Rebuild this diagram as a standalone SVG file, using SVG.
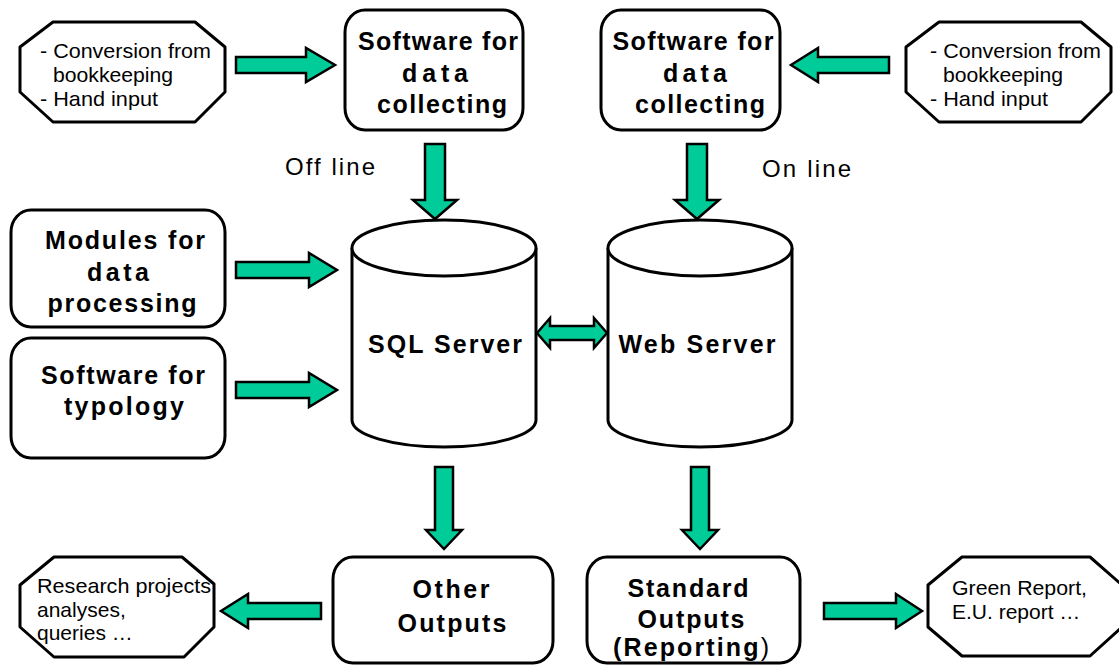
<svg xmlns="http://www.w3.org/2000/svg" width="1119" height="666" viewBox="0 0 1119 666">
  <style>
    .node { fill: #fff; stroke: #000; stroke-width: 3; stroke-linejoin: round; }
    .arrow { fill: #00CC99; stroke: #000; stroke-width: 2.5; stroke-linejoin: miter; }
    .lbl { font-family: "Liberation Sans", Arial, sans-serif; font-weight: bold; font-size: 25px; text-anchor: middle; fill: #000; }
    .txt { font-family: "Liberation Sans", Arial, sans-serif; font-size: 21px; fill: #000; }
    .note { font-family: "Liberation Sans", Arial, sans-serif; font-size: 24px; fill: #000; }
  </style>
  <rect width="1119" height="666" fill="#fff"/>

  <!-- block arrows -->
  <g id="connectors">
    <!-- input (left) -> data collecting -->
    <polygon class="arrow" points="236,57 306,57 306,48 335,65 306,82 306,73 236,73"/>
    <!-- input (right) -> data collecting -->
    <polygon class="arrow" points="889,57 818,57 818,48 791,65 818,82 818,73 889,73"/>
    <!-- data collecting -> SQL Server -->
    <polygon class="arrow" points="425,144 445,144 445,200 457,200 435,219 413,200 425,200"/>
    <!-- data collecting -> Web Server -->
    <polygon class="arrow" points="687,144 707,144 707,200 719,200 697,219 675,200 687,200"/>
    <!-- modules -> SQL Server -->
    <polygon class="arrow" points="236,262 309,262 309,253 337,270 309,287 309,278 236,278"/>
    <!-- typology -> SQL Server -->
    <polygon class="arrow" points="236,382 309,382 309,373 337,390 309,407 309,398 236,398"/>
    <!-- SQL Server <-> Web Server -->
    <polygon class="arrow" points="537,333 550,318 550,326 594,326 594,318 607,333 594,348 594,340 550,340 550,348"/>
    <!-- SQL Server -> other outputs -->
    <polygon class="arrow" points="435,467 453,467 453,530 462,530 444,549 426,530 435,530"/>
    <!-- Web Server -> standard outputs -->
    <polygon class="arrow" points="691,467 709,467 709,530 718,530 700,549 682,530 691,530"/>
    <!-- other outputs -> research -->
    <polygon class="arrow" points="321,603 248,603 248,594 221,611 248,628 248,619 321,619"/>
    <!-- standard outputs -> reports -->
    <polygon class="arrow" points="824,603 896,603 896,594 922,611 896,628 896,619 824,619"/>
  </g>

  <g id="input-left">
    <polygon class="node" points="53,22 195,22 225,47 225,92 195,122 53,122 20,92 20,47"/>
    <text class="txt" x="40" y="58" textLength="171" lengthAdjust="spacingAndGlyphs">- Conversion from</text>
    <text class="txt" x="53" y="82" textLength="120" lengthAdjust="spacingAndGlyphs">bookkeeping</text>
    <text class="txt" x="40" y="106" textLength="118" lengthAdjust="spacingAndGlyphs">- Hand input</text>
  </g>

  <g id="collect-offline">
    <rect class="node" x="345" y="10" width="178" height="120" rx="20" ry="22"/>
    <text class="lbl" x="438" y="50" textLength="160" lengthAdjust="spacing">Software for</text>
    <text class="lbl" x="435" y="82" textLength="66" lengthAdjust="spacing">data</text>
    <text class="lbl" x="442" y="113" textLength="130" lengthAdjust="spacing">collecting</text>
  </g>

  <g id="collect-online">
    <rect class="node" x="601" y="10" width="179" height="120" rx="20" ry="22"/>
    <text class="lbl" x="693" y="50" textLength="161" lengthAdjust="spacing">Software for</text>
    <text class="lbl" x="695" y="82" textLength="64" lengthAdjust="spacing">data</text>
    <text class="lbl" x="700" y="113" textLength="130" lengthAdjust="spacing">collecting</text>
  </g>

  <g id="input-right">
    <polygon class="node" points="939,22 1081,22 1111,47 1111,92 1081,122 939,122 906,92 906,47"/>
    <text class="txt" x="930" y="58" textLength="171" lengthAdjust="spacingAndGlyphs">- Conversion from</text>
    <text class="txt" x="943" y="82" textLength="120" lengthAdjust="spacingAndGlyphs">bookkeeping</text>
    <text class="txt" x="930" y="106" textLength="118" lengthAdjust="spacingAndGlyphs">- Hand input</text>
  </g>

  <g id="label-offline">
    <text class="note" x="285" y="175" textLength="90" lengthAdjust="spacing">Off line</text>
  </g>
  <g id="label-online">
    <text class="note" x="762" y="177" textLength="89" lengthAdjust="spacing">On line</text>
  </g>

  <g id="modules">
    <rect class="node" x="11" y="210" width="214" height="117" rx="20" ry="22"/>
    <text class="lbl" x="125" y="249" textLength="160" lengthAdjust="spacing">Modules for</text>
    <text class="lbl" x="118" y="281" textLength="62" lengthAdjust="spacing">data</text>
    <text class="lbl" x="122" y="312" textLength="149" lengthAdjust="spacing">processing</text>
  </g>

  <g id="typology">
    <rect class="node" x="11" y="338" width="214" height="120" rx="20" ry="22"/>
    <text class="lbl" x="123" y="384" textLength="164" lengthAdjust="spacing">Software for</text>
    <text class="lbl" x="124" y="415" textLength="120" lengthAdjust="spacing">typology</text>
  </g>

  <g id="sql-server">
    <path class="node" d="M352,248 A92,28 0 0 1 536,248 L536,420 A92,27 0 0 1 352,420 Z"/>
    <path class="node" fill="none" d="M352,248 A92,28 0 0 0 536,248"/>
    <text class="lbl" x="445" y="353" textLength="154" lengthAdjust="spacing">SQL Server</text>
  </g>

  <g id="web-server">
    <path class="node" d="M608,248 A92,28 0 0 1 792,248 L792,420 A92,27 0 0 1 608,420 Z"/>
    <path class="node" fill="none" d="M608,248 A92,28 0 0 0 792,248"/>
    <text class="lbl" x="697" y="353" textLength="157" lengthAdjust="spacing">Web Server</text>
  </g>

  <g id="research">
    <polygon class="node" points="54,557 182,557 214,584 214,627 184,657 54,657 20,627 20,585"/>
    <text class="txt" x="37" y="593" textLength="174" lengthAdjust="spacingAndGlyphs">Research projects</text>
    <text class="txt" x="37" y="617">analyses,</text>
    <text class="txt" x="37" y="640">queries …</text>
  </g>

  <g id="other-outputs">
    <rect class="node" x="333" y="557" width="220" height="106" rx="20" ry="22"/>
    <text class="lbl" x="451" y="598" textLength="77" lengthAdjust="spacing">Other</text>
    <text class="lbl" x="452" y="632" textLength="109" lengthAdjust="spacing">Outputs</text>
  </g>

  <g id="standard-outputs">
    <rect class="node" x="587" y="557" width="213" height="106" rx="20" ry="22"/>
    <text class="lbl" x="688" y="597" textLength="121" lengthAdjust="spacing">Standard</text>
    <text class="lbl" x="691" y="628" textLength="107" lengthAdjust="spacing">Outputs</text>
    <text class="lbl" x="691" y="656" textLength="156" lengthAdjust="spacing">(Reporting<tspan font-weight="normal">)</tspan></text>
  </g>

  <g id="reports">
    <polygon class="node" points="962,557 1090,557 1122,585 1122,627 1090,656 962,656 928,627 928,585"/>
    <text class="txt" x="952" y="595" textLength="135" lengthAdjust="spacingAndGlyphs">Green Report,</text>
    <text class="txt" x="952" y="619">E.U. report …</text>
  </g>
</svg>
